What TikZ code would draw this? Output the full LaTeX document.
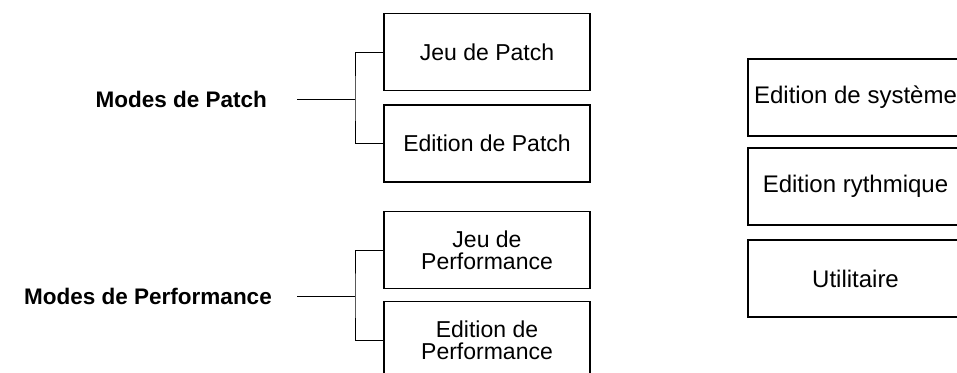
\documentclass[tikz,border=0pt]{standalone}
\usepackage{fontspec}
\setmainfont{Liberation Sans}
\begin{document}
\begin{tikzpicture}[x=1pt,y=-1pt,
  modebox/.style={draw=black, line width=1.8pt, minimum width=206pt, minimum height=77pt,
    align=center, inner sep=0pt, font=\fontsize{23}{22}\selectfont},
  sidebox/.style={modebox, minimum width=215pt, font=\fontsize{24}{23}\selectfont},
  grouplabel/.style={font=\bfseries\fontsize{22.5}{26}\selectfont, inner sep=0pt, anchor=east},
  bracket/.style={draw=black, line width=1pt}]
  \useasboundingbox (0,0) rectangle (957,372);
  \begin{scope}
  \clip (0,0) rectangle (957,372);

  % Patch modes
  \node[modebox] (jeupatch) at (487,52) {Jeu de Patch};
  \node[modebox] (editpatch) at (487,143.5) {Edition de Patch};
  \node[grouplabel] (modespatch) at (267,99) {Modes de Patch};
  \coordinate (patchspine) at (355,99);
  \coordinate (patchstart) at (297,99);
  \draw[bracket] (jeupatch.west) -| (patchspine) |- (editpatch.west);
  \draw[bracket] (patchstart) -- (patchspine);

  % Performance modes
  \node[modebox] (jeuperf) at (487,250) {Jeu de\\Performance};
  \node[modebox] (editperf) at (487,340) {Edition de\\Performance};
  \node[grouplabel] (modesperf) at (272,296) {Modes de Performance};
  \coordinate (perfspine) at (355,296);
  \coordinate (perfstart) at (297,296);
  \draw[bracket] (jeuperf.west) -| (perfspine) |- (editperf.west);
  \draw[bracket] (perfstart) -- (perfspine);

  % Other modes
  \node[sidebox] (systeme) at (855.5,97.5) {Edition de système};
  \node[sidebox] (rythme) at (855.5,186.5) {Edition rythmique};
  \node[sidebox] (util) at (855.5,278.5) {Utilitaire};
  \end{scope}
\end{tikzpicture}
\end{document}
